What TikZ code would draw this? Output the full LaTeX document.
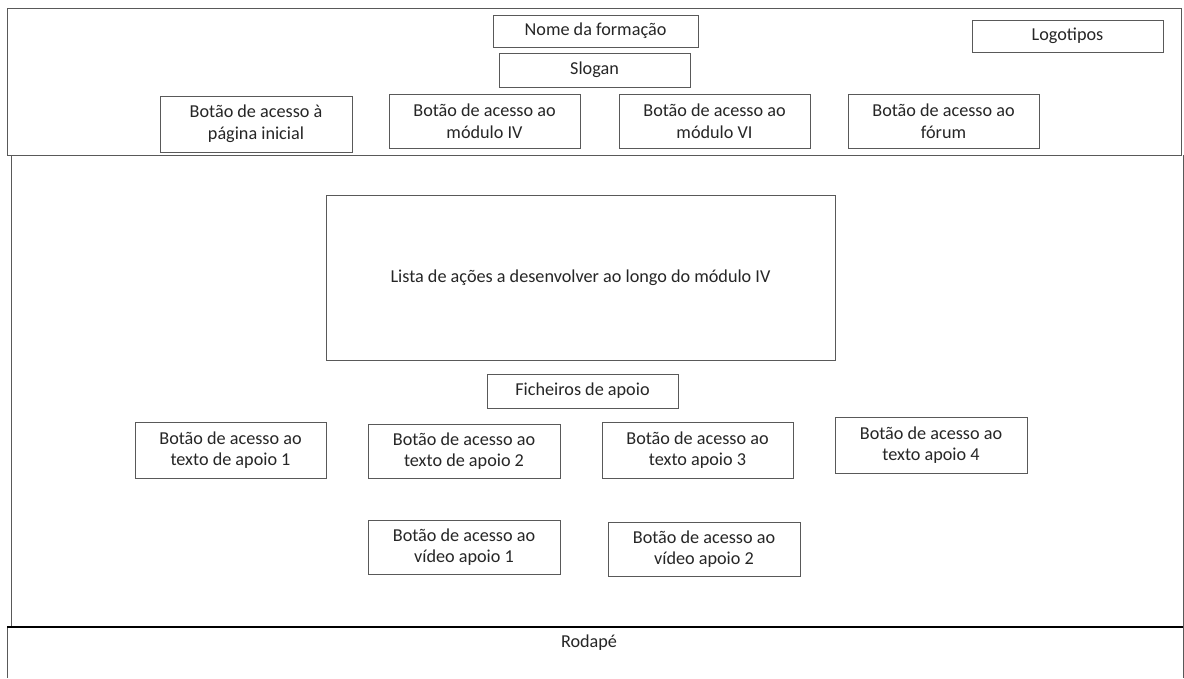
\documentclass[tikz,border=0pt]{standalone}
\usepackage{fontspec}
\setmainfont{Carlito}
\begin{document}
\begin{tikzpicture}[x=1pt,y=-1pt,
  frame/.style={draw=black!65,line width=0.9pt},
  box/.style={draw=black!65,line width=0.9pt,inner sep=0pt,align=center,text=black!85,
    font=\fontsize{18.2}{21.7}\selectfont},
  lbl/.style={inner sep=0pt,text=black!85,font=\fontsize{18.2}{21.7}\selectfont}]
\useasboundingbox[fill=white] (0,0) rectangle (1184,678);
% regions
\draw[frame] (7,8) rectangle (1181,155);
\draw[frame] (11,155) -- (11,627);
\draw[frame] (1183,155) -- (1183,627);
\draw[frame] (7,627) -- (7,678);
\draw[frame] (1183,627) -- (1183,678);
\draw[black,line width=1.6pt] (7,627) -- (1183,627);
\node[lbl] (rodape) at (589,643) {Rodapé};
% header
\node[box,minimum width=205pt,minimum height=32pt] (nome) at (595.5,31) {Nome da formação};
\node[box,minimum width=191pt,minimum height=34pt] (slogan) at (594.5,70) {Slogan};
\node[box,minimum width=191pt,minimum height=32pt] (logo) at (1067.5,36) {Logotipos};
\node[box,minimum width=192pt,minimum height=56pt] (binicial) at (256,124) {Botão de acesso à\\página inicial};
\node[box,minimum width=191pt,minimum height=54pt] (bmod4) at (484.5,121) {Botão de acesso ao\\módulo IV};
\node[box,minimum width=191pt,minimum height=54pt] (bmod6) at (714.5,121) {Botão de acesso ao\\módulo VI};
\node[box,minimum width=191pt,minimum height=54pt] (bforum) at (943.5,121) {Botão de acesso ao\\fórum};
% main
\node[box,minimum width=509pt,minimum height=165pt] (lista) at (580.5,277.5) {Lista de ações a desenvolver ao longo do módulo IV};
\node[box,minimum width=191pt,minimum height=34pt] (fich) at (582.5,391) {Ficheiros de apoio};
\node[box,minimum width=191pt,minimum height=56pt] (t1) at (230.5,450) {Botão de acesso ao\\texto de apoio 1};
\node[box,minimum width=192pt,minimum height=54pt] (t2) at (464,451) {Botão de acesso ao\\texto de apoio 2};
\node[box,minimum width=191pt,minimum height=56pt] (t3) at (697.5,450) {Botão de acesso ao\\texto apoio 3};
\node[box,minimum width=192pt,minimum height=56pt] (t4) at (931,445) {Botão de acesso ao\\texto apoio 4};
\node[box,minimum width=192pt,minimum height=54pt] (v1) at (464,547) {Botão de acesso ao\\vídeo apoio 1};
\node[box,minimum width=192pt,minimum height=54pt] (v2) at (704,549) {Botão de acesso ao\\vídeo apoio 2};
\end{tikzpicture}
\end{document}
